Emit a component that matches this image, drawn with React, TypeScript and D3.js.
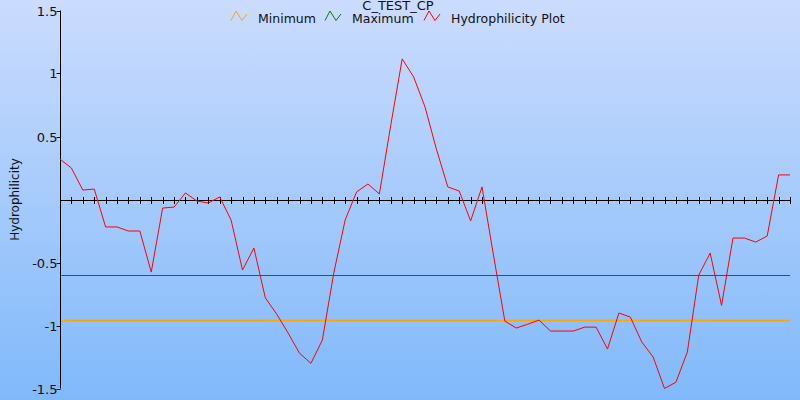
import { useEffect, useRef } from "react"
import * as d3 from "d3"

// hydrophilicity values, one per residue window
const hydro: number[] = [
  0.32, 0.25, 0.075, 0.083, -0.218, -0.218, -0.25, -0.25, -0.576, -0.068,
  -0.06, 0.052, -0.012, -0.028, 0.02, -0.163, -0.56, -0.385, -0.78, -0.91,
  -1.06, -1.22, -1.3, -1.116, -0.584, -0.163, 0.06, 0.123, 0.044, 0.59,
  1.116, 0.973, 0.735, 0.4, 0.1, 0.067, -0.17, 0.1, -0.44, -0.965,
  -1.02, -0.99, -0.957, -1.044, -1.044, -1.044, -1.013, -1.013, -1.187, -0.901,
  -0.933, -1.13, -1.25, -1.5, -1.45, -1.21, -0.6, -0.425, -0.84, -0.306,
  -0.306, -0.338, -0.29, 0.195, 0.195,
]

const minimumValue = -0.96
const maximumValue = -0.6

const yTicks = [1.5, 1, 0.5, -0.5, -1, -1.5]

const legendItems = [
  { label: "Minimum", color: "#ffa500" },
  { label: "Maximum", color: "#008000" },
  { label: "Hydrophilicity Plot", color: "#ff0000" },
]

const W = 800
const H = 400

const App = () => {
  const svgRef = useRef<SVGSVGElement | null>(null)

  useEffect(() => {
    if (!svgRef.current) return
    const svg = d3.select(svgRef.current)
    svg.selectAll("*").remove()

    const margin = { top: 10.5, right: 10, bottom: 11.5, left: 60 }
    const font = "'DejaVu Sans', Verdana, sans-serif"

    // background gradient
    const defs = svg.append("defs")
    const grad = defs
      .append("linearGradient")
      .attr("id", "bg")
      .attr("x1", 0)
      .attr("y1", 0)
      .attr("x2", 0)
      .attr("y2", 1)
    grad.append("stop").attr("offset", "0%").attr("stop-color", "#cbdcfe")
    grad.append("stop").attr("offset", "100%").attr("stop-color", "#80b9fa")
    svg.append("rect").attr("width", W).attr("height", H).attr("fill", "url(#bg)")

    const x = d3
      .scaleLinear()
      .domain([0, hydro.length - 1])
      .range([margin.left, W - margin.right])
    const y = d3
      .scaleLinear()
      .domain([-1.5, 1.5])
      .range([H - margin.bottom, margin.top])

    // min / max lines
    svg
      .append("line")
      .attr("x1", x(0))
      .attr("x2", x(hydro.length - 1))
      .attr("y1", Math.round(y(maximumValue)) + 0.5)
      .attr("y2", Math.round(y(maximumValue)) + 0.5)
      .attr("stroke", "#008000")
      .attr("stroke-width", 1)
    svg
      .append("line")
      .attr("x1", x(0))
      .attr("x2", x(hydro.length - 1))
      .attr("y1", Math.round(y(minimumValue)) + 0.5)
      .attr("y2", Math.round(y(minimumValue)) + 0.5)
      .attr("stroke", "#ffa500")
      .attr("stroke-width", 1.5)

    // horizontal axis at zero
    const xAxis = svg
      .append("g")
      .attr("transform", `translate(0,${Math.round(y(0)) + 0.5})`)
    xAxis
      .append("line")
      .attr("x1", x(0))
      .attr("x2", x(hydro.length - 1))
      .attr("stroke", "#000")
    xAxis
      .selectAll("line.tick")
      .data(d3.range(1, hydro.length))
      .join("line")
      .attr("class", "tick")
      .attr("x1", (d) => Math.round(x(d)) + 0.5)
      .attr("x2", (d) => Math.round(x(d)) + 0.5)
      .attr("y1", -3.5)
      .attr("y2", 3.5)
      .attr("stroke", "#000")

    // vertical axis
    const yAxis = svg.append("g").attr("transform", `translate(${margin.left + 0.5},0)`)
    yAxis
      .append("line")
      .attr("y1", y(1.5))
      .attr("y2", y(-1.5))
      .attr("stroke", "#000")
    const yt = yAxis
      .selectAll("g.yt")
      .data(yTicks)
      .join("g")
      .attr("class", "yt")
      .attr("transform", (d) => `translate(0,${Math.round(y(d)) + 0.5})`)
    yt.append("line").attr("x1", -4).attr("x2", 0).attr("stroke", "#000")
    yt.append("text")
      .attr("x", -3)
      .attr("dy", "0.36em")
      .attr("text-anchor", "end")
      .attr("font-family", font)
      .attr("font-size", 13)
      .attr("fill", "#111")
      .text((d) => String(d))

    svg
      .append("text")
      .attr("transform", `translate(19,${(y(1.5) + y(-1.5)) / 2}) rotate(-90)`)
      .attr("text-anchor", "middle")
      .attr("font-family", font)
      .attr("font-size", 12)
      .attr("fill", "#111")
      .text("Hydrophilicity")

    // the plot line
    const line = d3
      .line<number>()
      .x((_, i) => x(i))
      .y((d) => y(d))
    svg
      .append("path")
      .datum(hydro)
      .attr("fill", "none")
      .attr("stroke", "#ff0000")
      .attr("stroke-width", 1)
      .attr("d", line)

    // title
    svg
      .append("text")
      .attr("x", 398)
      .attr("y", 10)
      .attr("text-anchor", "middle")
      .attr("font-family", font)
      .attr("font-size", 13)
      .attr("fill", "#111")
      .text("C_TEST_CP")

    // legend
    const legendX = [231, 325, 424]
    legendItems.forEach((item, i) => {
      const g = svg.append("g").attr("transform", `translate(${legendX[i]},11)`)
      g.append("path")
        .attr("d", "M0,9.5L5,0L11,9.5L16,3")
        .attr("fill", "none")
        .attr("stroke", item.color)
        .attr("stroke-width", 1)
      g.append("text")
        .attr("x", 27)
        .attr("y", 11.5)
        .attr("font-family", font)
        .attr("font-size", 12.5)
        .attr("fill", "#111")
        .text(item.label)
    })
  }, [])

  return (
    <div style={{ position: "fixed", left: 0, top: 0, width: W, height: H }}>
      <svg ref={svgRef} width={W} height={H} style={{ display: "block" }} />
    </div>
  )
}

export default App
